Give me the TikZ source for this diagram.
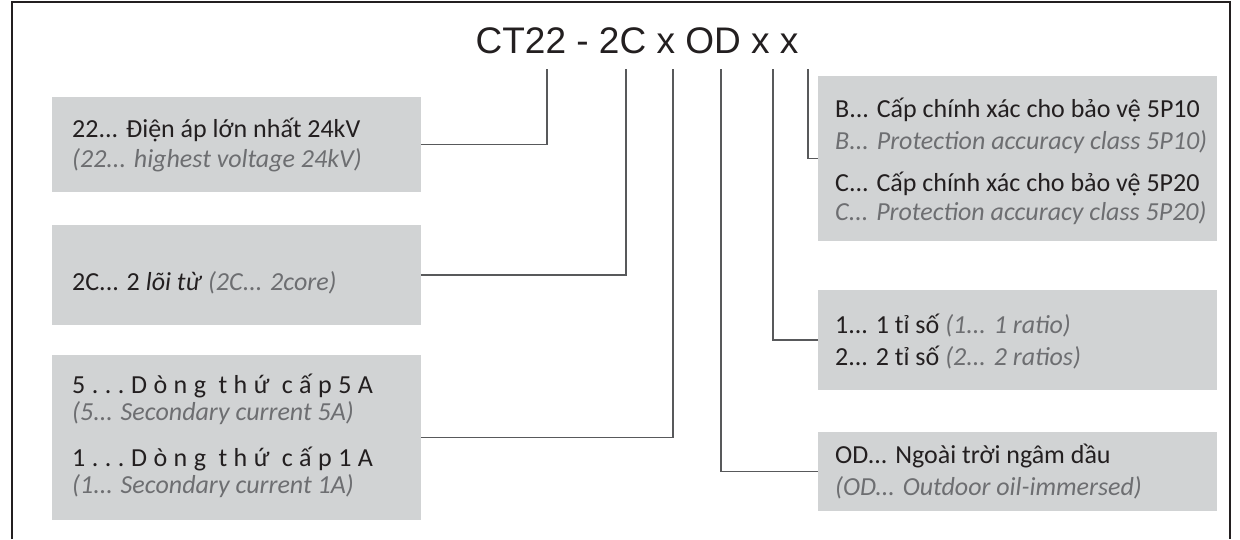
\documentclass[tikz,border=0pt]{standalone}
\usepackage{fontspec}
\setmainfont{Carlito}
\newfontfamily\titlefont{Liberation Sans}
\definecolor{boxgray}{HTML}{D1D3D4}
\definecolor{txtblack}{HTML}{231F20}
\definecolor{txtgray}{HTML}{6D6E71}
\definecolor{linegray}{HTML}{58595B}
\begin{document}
\begin{tikzpicture}[x=1pt,y=-1pt,
  gbox/.style={fill=boxgray,draw=none,inner sep=0pt,anchor=center},
  ltext/.style={anchor=base west,inner sep=0pt,text=txtblack,font=\fontsize{26}{30}\selectfont},
  itext/.style={anchor=base west,inner sep=0pt,text=txtgray,font=\fontsize{26}{30}\selectfont\itshape},
  conn/.style={draw=linegray,line width=1.3pt},
  frame/.style={draw=txtblack,line width=1.2pt}]
\useasboundingbox (0,0) rectangle (1240,539);
% frame
\draw[frame] (12,539) -- (12,2) -- (1230,2) -- (1230,539);
% title
\node[anchor=base,inner sep=0pt,text=txtblack,font=\fontsize{37}{40}\titlefont] (title) at (637,53) {CT22 - 2C x OD x x};
% tops of connectors
\coordinate (c22) at (547,69);
\coordinate (c2C) at (626,69);
\coordinate (cx1) at (673,69);
\coordinate (cOD) at (721,69);
\coordinate (cx2) at (773,69);
\coordinate (cx3) at (808,69);
% boxes left
\node[gbox,minimum width=369,minimum height=95] (b22) at (236.5,144.5) {};
\node[gbox,minimum width=369,minimum height=100] (b2C) at (236.5,275) {};
\node[gbox,minimum width=369,minimum height=165] (bcur) at (236.5,437.5) {};
% boxes right
\node[gbox,minimum width=399,minimum height=165] (bacc) at (1017.5,158.5) {};
\node[gbox,minimum width=399,minimum height=100] (brat) at (1017.5,340) {};
\node[gbox,minimum width=399,minimum height=79] (bod) at (1017.5,471.5) {};
% connectors
\draw[conn] (c22) |- (b22.east);
\draw[conn] (c2C) |- (b2C.east);
\draw[conn] (cx1) |- (bcur.east);
\draw[conn] (cOD) |- (bod.west);
\draw[conn] (cx2) |- (brat.west);
\draw[conn] (cx3) |- (bacc.west);
% texts left
\node[ltext] (t22a) at (72,137) {22... Điện áp lớn nhất 24kV};
\node[itext] (t22b) at (72,167) {(22... highest voltage 24kV)};
\node[ltext] (t2C) at (72,290) {2C... 2 \textit{lõi từ} \textcolor{txtgray}{\textit{(2C... 2core)}}};
\node[ltext] (tc5a) at (72,393) {\addfontfeature{LetterSpace=25}5...Dòng thứ cấp5A};
\node[itext] (tc5b) at (72,420) {(5... Secondary current 5A)};
\node[ltext] (tc1a) at (72,466) {\addfontfeature{LetterSpace=25}1...Dòng thứ cấp1A};
\node[itext] (tc1b) at (72,493) {(1... Secondary current 1A)};
% texts right
\node[ltext] (tba) at (835,117) {B... Cấp chính xác cho bảo vệ 5P10};
\node[itext] (tbb) at (835,149) {B... Protection accuracy class 5P10)};
\node[ltext] (tca) at (835,191) {C... Cấp chính xác cho bảo vệ 5P20};
\node[itext] (tcb) at (835,220) {C... Protection accuracy class 5P20)};
\node[ltext] (tr1) at (835,333) {1... 1 tỉ số \textcolor{txtgray}{\textit{(1... 1 ratio)}}};
\node[ltext] (tr2) at (835,365) {2... 2 tỉ số \textcolor{txtgray}{\textit{(2... 2 ratios)}}};
\node[ltext] (toda) at (835,463) {OD... Ngoài trời ngâm dầu};
\node[itext] (todb) at (835,495) {(OD... Outdoor oil-immersed)};
\end{tikzpicture}
\end{document}
